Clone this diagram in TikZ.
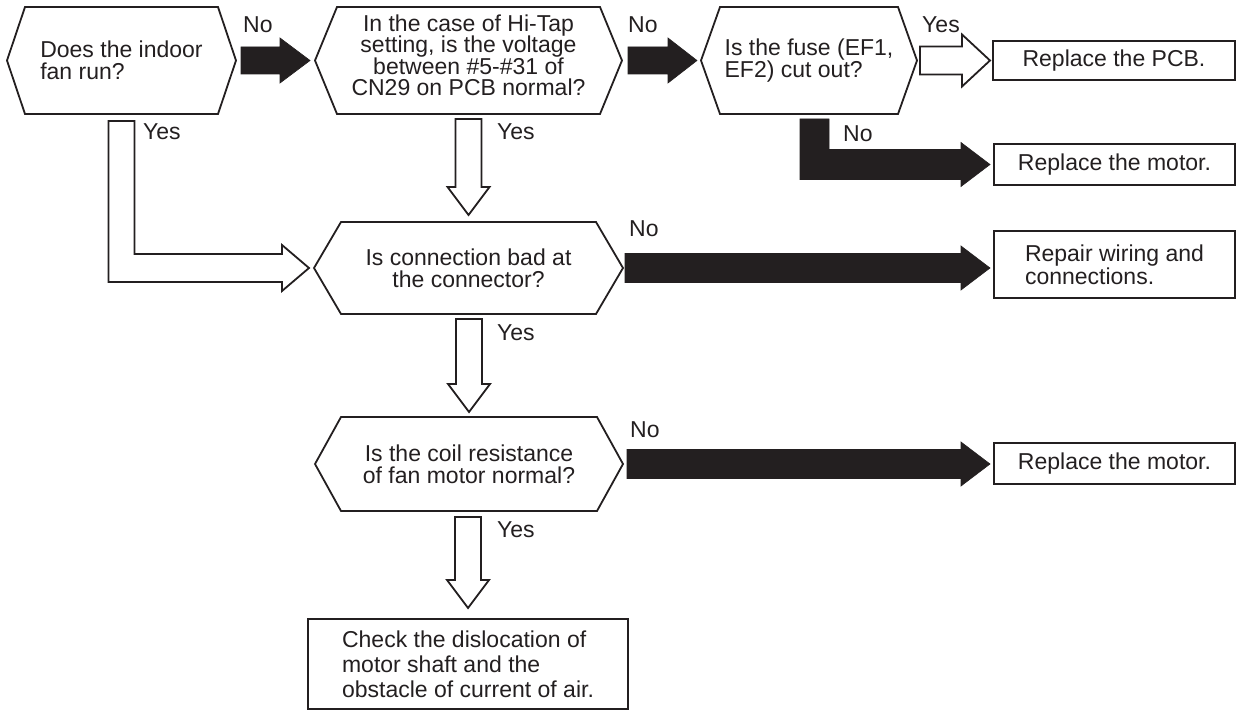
\documentclass[tikz,border=0pt]{standalone}
\usepackage{fontspec}
\setmainfont{Liberation Sans}
\usetikzlibrary{calc}
\definecolor{ink}{RGB}{35,31,32}
\newcommand\hexshape[2]{\draw[hexline] ([xshift=#2]#1.north west) -- ([xshift=-#2]#1.north east) -- (#1.east) -- ([xshift=-#2]#1.south east) -- ([xshift=#2]#1.south west) -- (#1.west) -- cycle;}
% horizontal block arrow: style, start, tip, body half, head half, head length
\newcommand\harrow[6]{\path[#1] let \p1=(#2), \p2=(#3) in (\x1,{\y2+#4}) -- ({\x2-#6},{\y2+#4}) -- ({\x2-#6},{\y2+#5}) -- (\x2,\y2) -- ({\x2-#6},{\y2-#5}) -- ({\x2-#6},{\y2-#4}) -- (\x1,{\y2-#4}) -- cycle;}
% vertical block arrow (downwards)
\newcommand\varrow[6]{\path[#1] let \p1=(#2), \p2=(#3) in ({\x2-#4},\y1) -- ({\x2-#4},{\y2+#6}) -- ({\x2-#5},{\y2+#6}) -- (\x2,\y2) -- ({\x2+#5},{\y2+#6}) -- ({\x2+#4},{\y2+#6}) -- ({\x2+#4},\y1) -- cycle;}
\tikzset{
  hexline/.style={draw=ink, line width=1.8pt, line join=miter},
  hexnode/.style={inner sep=0pt, outer sep=0pt, text=ink, font=\fontsize{23}{22}\selectfont},
  boxnode/.style={draw=ink, line width=1.8pt, inner sep=0pt, outer sep=0pt, text=ink, font=\fontsize{23}{23}\selectfont},
  blackarrow/.style={fill=ink, draw=ink, line width=0.6pt, line join=miter},
  whitearrow/.style={fill=white, draw=ink, line width=1.8pt, line join=miter},
  lab/.style={anchor=base west, inner sep=0pt, text=ink, font=\fontsize{23}{23}\selectfont}
}
\begin{document}
\begin{tikzpicture}[x=1pt,y=-1pt]
\useasboundingbox (0,0) rectangle (1236,711);
% decision nodes
\node[hexnode, minimum width=229pt, minimum height=107pt, align=left] (h1) at (121.5,60.5) {Does the indoor\\fan run?};
\node[hexnode, minimum width=307pt, minimum height=107pt] (h2) at (468.5,60.5) {};
\node[hexnode, align=center, font=\fontsize{23}{21.5}\selectfont] (h2t) at ([yshift=5pt]h2.center) {In the case of Hi-Tap\\setting, is the voltage\\between \#5-\#31 of\\CN29 on PCB normal?};
\node[hexnode, minimum width=216pt, minimum height=107pt, align=left] (h3) at (809,60.5) {Is the fuse (EF1,\\EF2) cut out?};
\node[hexnode, minimum width=309pt, minimum height=92pt, align=center] (h4) at (468.5,268) {Is connection bad at\\the connector?};
\node[hexnode, minimum width=308pt, minimum height=94pt, align=center] (h5) at (469,464) {Is the coil resistance\\of fan motor normal?};
\hexshape{h1}{18pt}
\hexshape{h2}{22pt}
\hexshape{h3}{19pt}
\hexshape{h4}{27pt}
\hexshape{h5}{26pt}
% result boxes
\node[boxnode, minimum width=242pt, minimum height=39pt] (pcb) at (1114,60.5) {Replace the PCB.};
\node[boxnode, minimum width=241pt, minimum height=41pt] (m1) at (1114.5,164.5) {Replace the motor.};
\node[boxnode, minimum width=241pt, minimum height=67pt, align=left] (rep) at (1114.5,264.5) {Repair wiring and\\connections.};
\node[boxnode, minimum width=241pt, minimum height=41pt] (m2) at (1114.5,463.5) {Replace the motor.};
\node[boxnode, minimum width=320pt, minimum height=90pt, align=left, font=\fontsize{23}{25}\selectfont] (chk) at (468,664) {Check the dislocation of\\motor shaft and the\\obstacle of current of air.};
% connectors
\coordinate (t3) at (h4.east -| rep.west);
\coordinate (t4) at (h5.east -| m2.west);
\harrow{blackarrow}{[xshift=5pt]h1.east}{[xshift=-5pt]h2.west}{13.5pt}{22.5pt}{30pt}
\harrow{blackarrow}{[xshift=6pt]h2.east}{[xshift=-4pt]h3.west}{13.5pt}{22.5pt}{29pt}
\harrow{whitearrow}{[xshift=3pt]h3.east}{[xshift=-3pt]pcb.west}{14pt}{26pt}{28pt}
\harrow{blackarrow}{[xshift=2pt]h4.east}{[xshift=-4pt]t3}{14.5pt}{22pt}{29pt}
\harrow{blackarrow}{[xshift=4pt]h5.east}{[xshift=-4pt]t4}{14.5pt}{22pt}{29pt}
\varrow{whitearrow}{[yshift=-5pt]h2.south}{[yshift=7pt]h4.north}{13pt}{21pt}{28pt}
\varrow{whitearrow}{[yshift=-5pt]h4.south}{[yshift=5pt]h5.north}{13pt}{21pt}{28pt}
\varrow{whitearrow}{[yshift=-6pt]h5.south}{[yshift=11pt]chk.north}{13pt}{21pt}{28pt}
% L-shaped white arrow: fan -> connection
\path[whitearrow] let \p1=([yshift=-7pt]h1.south), \p2=([xshift=-5pt]h4.west) in
  ({\x1-13pt},\y1) -- ({\x1-13pt},{\y2-14pt}) -- ({\x2-27pt},{\y2-14pt}) -- ({\x2-27pt},{\y2-23pt}) -- (\x2,\y2)
  -- ({\x2-27pt},{\y2+23pt}) -- ({\x2-27pt},{\y2+14pt}) -- ({\x1+13pt},{\y2+14pt}) -- ({\x1+13pt},\y1) -- cycle;
% L-shaped black arrow: fuse -> motor
\path[blackarrow] let \p1=([xshift=5.5pt,yshift=-5pt]h3.south), \p2=([xshift=-4pt]m1.west) in
  ({\x1-14.5pt},\y1) -- ({\x1-14.5pt},{\y2-15pt}) -- ({\x2-29pt},{\y2-15pt}) -- ({\x2-29pt},{\y2-22pt}) -- (\x2,\y2)
  -- ({\x2-29pt},{\y2+22pt}) -- ({\x2-29pt},{\y2+15pt}) -- ({\x1+14.5pt},{\y2+15pt}) -- ({\x1+14.5pt},\y1) -- cycle;
% labels
\node[lab] (l1) at (243,33) {No};
\node[lab] (l2) at (628,33) {No};
\node[lab] (l3) at (922,33) {Yes};
\node[lab] (l4) at (143,140) {Yes};
\node[lab] (l5) at (497,140) {Yes};
\node[lab] (l6) at (843,142) {No};
\node[lab] (l7) at (629,237) {No};
\node[lab] (l8) at (497,340) {Yes};
\node[lab] (l9) at (630,437) {No};
\node[lab] (l10) at (497,537) {Yes};
\end{tikzpicture}
\end{document}
